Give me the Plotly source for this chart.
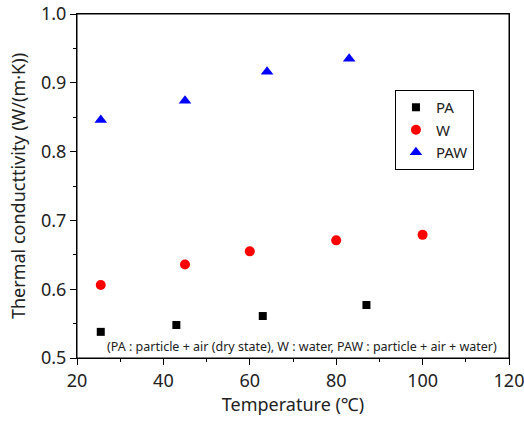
import plotly.graph_objects as go

pa_x = [25.5, 43, 63, 87]
pa_y = [0.538, 0.548, 0.561, 0.577]
w_x = [25.5, 45, 60, 80, 100]
w_y = [0.606, 0.636, 0.655, 0.671, 0.679]
paw_x = [25.5, 45, 64, 83]
paw_y = [0.846, 0.874, 0.916, 0.935]

x_ticks = [20, 40, 60, 80, 100, 120]
y_ticks = [0.5, 0.6, 0.7, 0.8, 0.9, 1.0]
y_ticklabels = ["0.5", "0.6", "0.7", "0.8", "0.9", "1.0"]

FONT = "Noto Sans"

fig = go.Figure()
fig.add_trace(go.Scatter(x=pa_x, y=pa_y, mode="markers", name="PA",
                         marker=dict(symbol="square", size=8, color="black")))
fig.add_trace(go.Scatter(x=w_x, y=w_y, mode="markers", name="W",
                         marker=dict(symbol="circle", size=10, color="red")))
fig.add_trace(go.Scatter(x=paw_x, y=paw_y, mode="markers", name="PAW",
                         marker=dict(symbol="triangle-up", size=11, color="blue")))

axis_common = dict(showgrid=False, zeroline=False, showline=True, linecolor="black",
                   linewidth=1, tickcolor="black", ticklen=6, tickwidth=1, automargin=False,
                   ticklabeloverflow="allow", mirror=True)

fig.update_layout(
    width=524, height=424,
    margin=dict(l=77, r=15, t=14, b=66),
    paper_bgcolor="white", plot_bgcolor="white",
    font=dict(family=FONT, color="#222", size=18),
    xaxis=dict(range=[20, 120], tickvals=x_ticks, ticks="outside",
               minor=dict(dtick=10, ticks="outside", ticklen=3, tickcolor="black"),
               title=dict(text="Temperature (℃)", font=dict(size=18), standoff=4),
               tickfont=dict(size=18), **axis_common),
    yaxis=dict(range=[0.5, 1.0], tickvals=y_ticks, ticktext=y_ticklabels, ticks="outside",
               minor=dict(dtick=0.05, ticks="outside", ticklen=3, tickcolor="black"),
               title=dict(text="Thermal conducttivity (W/(m·K))", font=dict(size=18), standoff=10),
               tickfont=dict(size=18), **axis_common),
    legend=dict(x=0.736, y=0.779, xanchor="left", yanchor="top",
                bordercolor="black", borderwidth=1, bgcolor="white",
                font=dict(size=15, color="#222"), itemwidth=30, tracegroupgap=0),
    showlegend=True,
    shapes=[dict(type="rect", xref="paper", yref="paper", x0=0, y0=0, x1=1, y1=1,
                 line=dict(color="black", width=1), fillcolor="rgba(0,0,0,0)", layer="above")],
)

fig.add_annotation(x=0.521, y=0.5, xref="paper", yref="y", yanchor="bottom", xanchor="center",
                   text="(PA : particle + air (dry state), W : water, PAW : particle + air + water)",
                   showarrow=False, font=dict(size=12.5, color="#222"), yshift=1)

fig.write_html("out.html", config={"displayModeBar": False},
               post_script="document.body.style.margin='0';document.body.style.overflow='hidden';")
